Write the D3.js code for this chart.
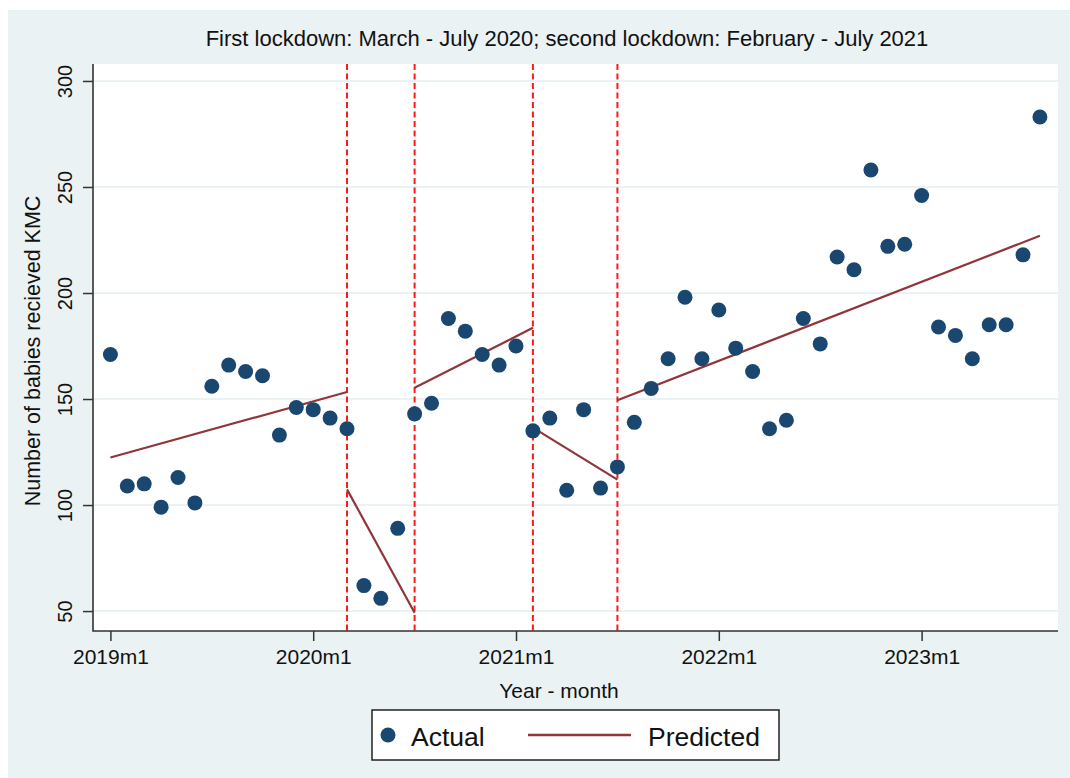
<!DOCTYPE html>
<html>
<head>
<meta charset="utf-8">
<script src="https://cdn.jsdelivr.net/npm/d3@7"></script>
<style>
  html, body { margin: 0; padding: 0; background: #ffffff; }
  svg { display: block; font-family: "Liberation Sans", Arial, sans-serif; }
</style>
</head>
<body>
<script>
"use strict";
// month index 0 = 2019m1
const actual = [171, 109, 110, 99, 113, 101, 156, 166, 163, 161, 133, 146,
                145, 141, 136, 62, 56, 89, 143, 148, 188, 182, 171, 166,
                175, 135, 141, 107, 145, 108, 118, 139, 155, 169, 198, 169,
                192, 174, 163, 136, 140, 188, 176, 217, 211, 258, 222, 223,
                246, 184, 180, 169, 185, 185, 218, 283]
// predicted segments (interrupted time series)
const predStartMonth = [0, 14, 18, 25, 30]
const predEndMonth = [14, 18, 25, 30, 55]
const predStartValue = [122.4, 107.4, 155.3, 136.5, 149.4]
const predEndValue = [153.3, 49.2, 183.6, 112.0, 227.0]
const lockdownMonths = [14, 18, 25, 30]
const xTickMonths = [0, 12, 24, 36, 48]
const xTickLabels = ["2019m1", "2020m1", "2021m1", "2022m1", "2023m1"]
const yTicks = [50, 100, 150, 200, 250, 300]

const titleText = "First lockdown: March - July 2020; second lockdown: February - July 2021"

;(function(){
  let m = {width: 1070, height: 778}
  let plot = {left: 93, right: 1058, top: 64, bottom: 631}

  const svg = d3.select("body").append("svg")
      .attr("width", m.width)
      .attr("height", m.height)

  // graph region
  svg.append("rect")
      .attr("x", 8).attr("y", 10)
      .attr("width", m.width - 8).attr("height", m.height - 10)
      .attr("fill", "#eaf2f3")

  // plot region
  svg.append("rect")
      .attr("x", plot.left).attr("y", plot.top)
      .attr("width", plot.right - plot.left).attr("height", plot.bottom - plot.top)
      .attr("fill", "#ffffff")

  let xScale = d3.scaleLinear()
      .domain([-1.03, 56.07])
      .range([plot.left, plot.right])
  let yScale = d3.scaleLinear()
      .domain([40.6, 308])
      .range([plot.bottom, plot.top])

  // grid lines
  svg.append("g")
    .selectAll("line")
    .data(yTicks)
    .enter()
    .append("line")
      .attr("x1", plot.left).attr("x2", plot.right)
      .attr("y1", d => yScale(d)).attr("y2", d => yScale(d))
      .attr("stroke", "#eaf2f3")
      .attr("stroke-width", 2)

  // lockdown markers
  svg.append("g")
    .selectAll("line")
    .data(lockdownMonths)
    .enter()
    .append("line")
      .attr("x1", d => xScale(d)).attr("x2", d => xScale(d))
      .attr("y1", plot.top).attr("y2", plot.bottom)
      .attr("stroke", "#ff1a1a")
      .attr("stroke-width", 2)
      .attr("stroke-dasharray", "6,3.5")

  // predicted lines
  let segs = predStartMonth.map((s, i) => [[s, predStartValue[i]], [predEndMonth[i], predEndValue[i]]])
  let line = d3.line()
      .x(d => xScale(d[0]))
      .y(d => yScale(d[1]))
  svg.append("g")
    .selectAll("path")
    .data(segs)
    .enter()
    .append("path")
      .attr("d", d => line(d))
      .attr("fill", "none")
      .attr("stroke", "#90353b")
      .attr("stroke-width", 2.2)

  // actual points
  svg.append("g")
    .selectAll("circle")
    .data(actual)
    .enter()
    .append("circle")
      .attr("cx", (d, i) => xScale(i))
      .attr("cy", d => yScale(d))
      .attr("r", 7.5)
      .attr("fill", "#1a476f")

  // axes
  let yAxis = svg.append("g")
      .attr("transform", "translate(" + plot.left + ",0)")
      .call(d3.axisLeft(yScale).tickValues(yTicks).tickSize(10).tickSizeOuter(0))
  yAxis.select(".domain").remove()
  yAxis.selectAll(".tick line").attr("stroke", "#333").attr("stroke-width", 1.5)
  // rotated labels centred on each tick
  yAxis.selectAll(".tick text")
      .attr("font-size", "20px")
      .attr("fill", "#111")
      .attr("font-family", "Liberation Sans, Arial, sans-serif")
      .attr("text-anchor", "middle")
      .attr("x", 0).attr("y", 0)
      .attr("dy", "0.35em")
      .attr("transform", "translate(-28,0) rotate(-90)")

  let xAxis = svg.append("g")
      .attr("transform", "translate(0," + plot.bottom + ")")
      .call(d3.axisBottom(xScale).tickValues(xTickMonths).tickFormat((d, i) => xTickLabels[i])
        .tickSize(10).tickSizeOuter(0).tickPadding(8))
  xAxis.select(".domain").remove()
  xAxis.selectAll(".tick line").attr("stroke", "#333").attr("stroke-width", 1.5)
  xAxis.selectAll(".tick text")
      .attr("font-size", "21px")
      .attr("fill", "#111")
      .attr("font-family", "Liberation Sans, Arial, sans-serif")

  // axis lines
  svg.append("path")
      .attr("d", "M" + plot.left + "," + plot.top + "V" + plot.bottom + "H" + plot.right)
      .attr("fill", "none")
      .attr("stroke", "#333")
      .attr("stroke-width", 1.6)

  // titles
  svg.append("text")
      .attr("x", 567).attr("y", 46)
      .attr("text-anchor", "middle")
      .attr("font-size", "22px")
      .attr("fill", "#111")
      .text(titleText)
  svg.append("text")
      .attr("x", 559).attr("y", 698)
      .attr("text-anchor", "middle")
      .attr("font-size", "21px")
      .attr("fill", "#111")
      .text("Year - month")
  svg.append("text")
      .attr("transform", "translate(40,351) rotate(-90)")
      .attr("text-anchor", "middle")
      .attr("font-size", "21.5px")
      .attr("fill", "#111")
      .text("Number of babies recieved KMC")

  // legend
  let lg = svg.append("g")
  lg.append("rect")
      .attr("x", 372).attr("y", 710)
      .attr("width", 407).attr("height", 50)
      .attr("fill", "#ffffff")
      .attr("stroke", "#222")
      .attr("stroke-width", 1.5)
  lg.append("circle")
      .attr("cx", 388).attr("cy", 735).attr("r", 7.5)
      .attr("fill", "#1a476f")
  lg.append("text")
      .attr("x", 411).attr("y", 746)
      .attr("font-size", "26.5px")
      .attr("fill", "#111")
      .text("Actual")
  lg.append("line")
      .attr("x1", 528).attr("x2", 631)
      .attr("y1", 735).attr("y2", 735)
      .attr("stroke", "#90353b")
      .attr("stroke-width", 2.5)
  lg.append("text")
      .attr("x", 648).attr("y", 746)
      .attr("font-size", "26.5px")
      .attr("fill", "#111")
      .text("Predicted")
})();
</script>
</body>
</html>
